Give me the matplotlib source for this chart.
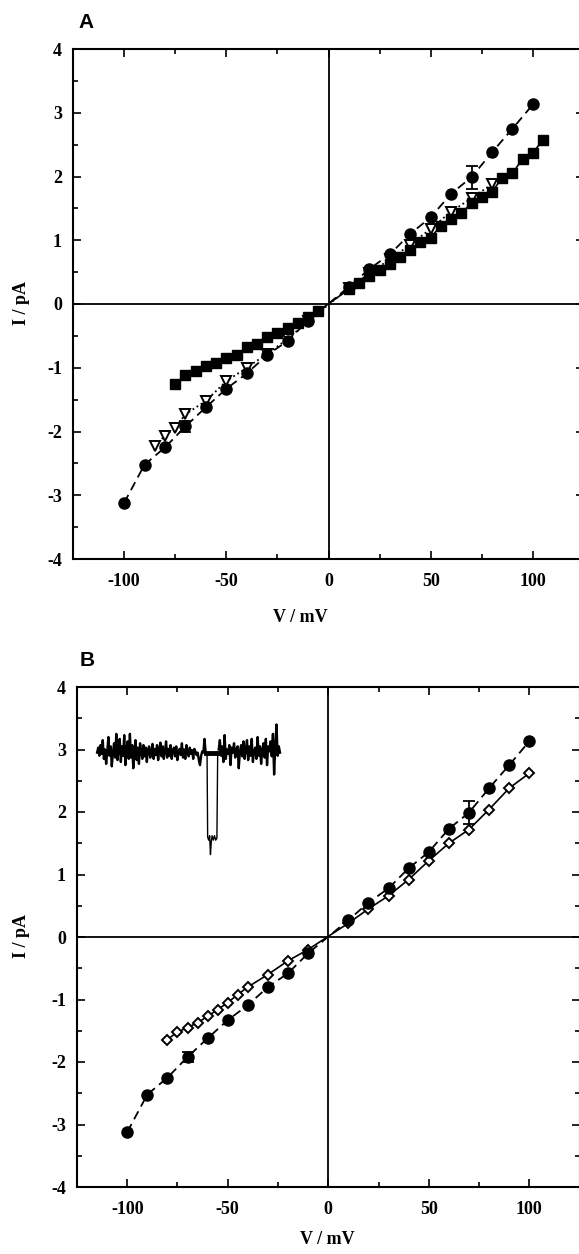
import numpy as np
import matplotlib
matplotlib.use("Agg")
import matplotlib.pyplot as plt
from matplotlib.ticker import MultipleLocator

plt.rcParams["axes.unicode_minus"] = False

# ---------------- data ----------------
# Panel A
circ_v = [-100, -90, -80, -70, -60, -50, -40, -30, -20, -10, 10, 20, 30, 40, 50, 60, 70, 80, 90, 100]
circ_i = [-3.12, -2.52, -2.25, -1.92, -1.62, -1.33, -1.09, -0.80, -0.58, -0.26,
          0.27, 0.55, 0.78, 1.10, 1.36, 1.73, 1.99, 2.38, 2.75, 3.13]
circ_err_v = [-70, 70]
circ_err_i = [-1.92, 1.99]
circ_err = [0.08, 0.18]

sq_v = [-75, -70, -65, -60, -55, -50, -45, -40, -35, -30, -25, -20, -15, -10, -5,
        10, 15, 20, 25, 30, 35, 40, 45, 50, 55, 60, 65, 70, 75, 80, 85, 90, 95, 100, 105]
sq_i = [-1.25, -1.12, -1.05, -0.97, -0.93, -0.85, -0.80, -0.68, -0.63, -0.52, -0.45, -0.37, -0.30, -0.21, -0.11,
        0.23, 0.33, 0.44, 0.53, 0.63, 0.74, 0.84, 0.97, 1.04, 1.23, 1.34, 1.43, 1.58, 1.68, 1.76, 1.98, 2.05, 2.28, 2.37, 2.58]

tri_v = [-85, -80, -75, -70, -60, -50, -40, -30, -20, -10, 10, 20, 30, 40, 50, 60, 70, 80]
tri_i = [-2.22, -2.07, -1.94, -1.73, -1.52, -1.21, -1.00, -0.78, -0.55, -0.27,
         0.25, 0.48, 0.70, 0.93, 1.18, 1.45, 1.66, 1.88]

# Panel B
dia_v = [-80, -75, -70, -65, -60, -55, -50, -45, -40, -30, -20, -10, 10, 20, 30, 40, 50, 60, 70, 80, 90, 100]
dia_i = [-1.64, -1.52, -1.45, -1.37, -1.27, -1.16, -1.05, -0.92, -0.80, -0.60, -0.38, -0.20,
         0.22, 0.45, 0.66, 0.92, 1.22, 1.50, 1.72, 2.04, 2.38, 2.62]

# Inset single-channel trace (drawn in panel B data units)
trace_base = 2.95
trace_pre = [0.0, 0.08, -0.05, 0.12, -0.02, 0.2, -0.1, 0.05, -0.18, 0.02, 0.25, -0.05, 0.1, -0.22, 0.0,
             0.15, -0.08, 0.3, -0.12, 0.06, 0.22, -0.15, 0.1, -0.05, 0.28, -0.2, 0.05, 0.18, -0.1, 0.3,
             -0.08, 0.12, -0.25, 0.05, 0.2, -0.12, 0.08, -0.18, 0.15, 0.02, -0.1, 0.12, -0.06, 0.08, -0.15,
             0.05, 0.1, -0.08, 0.02, 0.14, -0.1, 0.06, -0.04, 0.12, -0.12, 0.05, 0.16, -0.06, 0.1, -0.1,
             0.02, 0.18, -0.08, 0.06, -0.05, 0.12, -0.1, 0.04, 0.08, -0.06, 0.1, -0.12, 0.02, 0.06, -0.04,
             0.15, -0.08, 0.05, -0.1, 0.12, 0.0, -0.06, 0.08, -0.02, 0.04, -0.1, 0.06, 0.02, -0.04, 0.0,
             -0.12, -0.2, -0.05, 0.02, 0.0, 0.22, 0.0]
trace_event_v = [-61.0, -60.3, -60.0, -59.5, -59.0, -58.6, -58.2, -57.8, -57.2, -56.6, -56.0, -55.4, -55.0]
trace_event_i = [2.95, 2.95, 1.60, 1.55, 1.62, 1.32, 1.52, 1.62, 1.55, 1.62, 1.55, 1.58, 2.95]
trace_post = [0.05, 0.2, -0.05, 0.1, -0.15, 0.28, -0.1, 0.05, -0.02, 0.12, -0.2, 0.08, 0.0, 0.15, -0.08,
              0.05, 0.1, -0.25, 0.02, 0.12, -0.06, 0.18, -0.1, 0.05, 0.2, -0.12, 0.1, -0.05, 0.22, -0.15,
              0.02, 0.08, -0.1, 0.25, -0.05, 0.1, -0.18, 0.05, 0.15, -0.08, 0.22, -0.2, 0.1, 0.02, 0.18,
              -0.06, 0.3, -0.35, 0.1, 0.45, -0.05, 0.1, 0.0]
trace_bar_v = [-61.0, -54.0]

xticks = [-100, -50, 0, 50, 100]
yticks = [-4, -3, -2, -1, 0, 1, 2, 3, 4]

# ---------------- figure ----------------
W, H = 579, 1254
fig = plt.figure(figsize=(W / 100, H / 100), dpi=100)

serif = ["Liberation Serif", "DejaVu Serif"]
sans = ["Liberation Sans", "DejaVu Sans"]


def style_axes(ax):
    ax.set_xlim(-125, 125)
    ax.set_ylim(-4, 4)
    ax.set_xticks(xticks)
    ax.set_yticks(yticks)
    ax.xaxis.set_minor_locator(MultipleLocator(25))
    ax.yaxis.set_minor_locator(MultipleLocator(0.5))
    ax.tick_params(which="both", direction="in", top=True, right=True, width=1.2)
    ax.tick_params(which="major", length=6)
    ax.tick_params(which="minor", length=3.5)
    ax.tick_params(axis="x", pad=10)
    ax.tick_params(axis="y", pad=8)
    for lab in ax.get_xticklabels() + ax.get_yticklabels():
        lab.set_fontfamily(serif)
        lab.set_fontweight("bold")
        lab.set_fontsize(13)
    for s in ax.spines.values():
        s.set_linewidth(1.5)
    ax.axhline(0, color="black", lw=1.3, zorder=1)
    ax.axvline(0, color="black", lw=1.3, zorder=1)


# Panel A
axA = fig.add_axes([73 / W, 1 - 559 / H, (584 - 73) / W, (559 - 49) / H])
style_axes(axA)
axA.plot(tri_v, tri_i, linestyle=":", color="black", lw=1.3, marker="v", markersize=6.5,
         markerfacecolor="white", markeredgecolor="black", markeredgewidth=1.4, zorder=3)
axA.plot(sq_v, sq_i, linestyle="-", color="black", lw=1.2, marker="s", markersize=6.5,
         markerfacecolor="black", markeredgecolor="black", zorder=4)
axA.plot(circ_v, circ_i, linestyle=(0, (5, 3)), color="black", lw=1.3, marker="o", markersize=8,
         markerfacecolor="black", markeredgecolor="black", zorder=5)
axA.errorbar(circ_err_v, circ_err_i, yerr=circ_err, fmt="none", ecolor="black", elinewidth=1.3,
             capsize=4, capthick=1.3, zorder=5)

# Panel B
axB = fig.add_axes([77 / W, 1 - 1187 / H, (579.5 - 77) / W, (1187 - 687) / H])
style_axes(axB)
axB.plot(dia_v, dia_i, linestyle="-", color="black", lw=1.2, marker="D", markersize=5.5,
         markerfacecolor="white", markeredgecolor="black", markeredgewidth=1.4, zorder=4)
axB.plot(circ_v, circ_i, linestyle=(0, (5, 3)), color="black", lw=1.3, marker="o", markersize=8,
         markerfacecolor="black", markeredgecolor="black", zorder=5)
axB.errorbar(circ_err_v, circ_err_i, yerr=circ_err, fmt="none", ecolor="black", elinewidth=1.3,
             capsize=4, capthick=1.3, zorder=5)

# inset trace
pre_x = np.linspace(-115, -61, len(trace_pre))
post_x = np.linspace(-54.5, -24, len(trace_post))
axB.plot(pre_x, trace_base + np.array(trace_pre), color="black", lw=1.7, zorder=6)
axB.plot(trace_event_v, trace_event_i, color="black", lw=1.0, zorder=6)
axB.plot(post_x, trace_base + np.array(trace_post), color="black", lw=1.7, zorder=6)
axB.plot(trace_bar_v, [trace_base, trace_base], color="black", lw=3.5, zorder=6)

# labels
fig.text(22 / W, 1 - 303 / H, "I / pA", rotation=90, ha="center", va="center",
         fontfamily=serif, fontweight="bold", fontsize=13)
fig.text(22 / W, 1 - 936 / H, "I / pA", rotation=90, ha="center", va="center",
         fontfamily=serif, fontweight="bold", fontsize=13)
fig.text(300 / W, 1 - 617 / H, "V / mV", ha="center", va="center",
         fontfamily=serif, fontweight="bold", fontsize=13)
fig.text(327 / W, 1 - 1240 / H, "V / mV", ha="center", va="center",
         fontfamily=serif, fontweight="bold", fontsize=13)
fig.text(78 / W, 1 - 23 / H, "A", ha="left", va="center",
         fontfamily=sans, fontweight="bold", fontsize=15)
fig.text(80 / W, 1 - 661 / H, "B", ha="left", va="center",
         fontfamily=sans, fontweight="bold", fontsize=15)

fig.savefig("out.png", dpi=100)
